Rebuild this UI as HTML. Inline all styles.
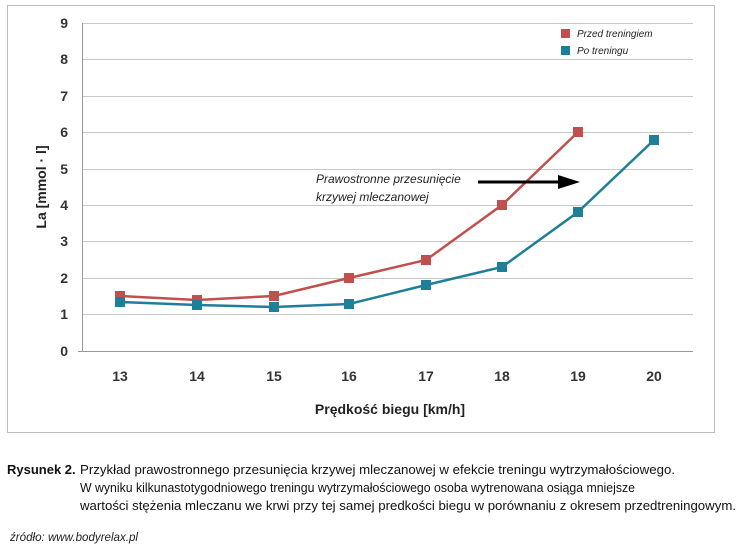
<!DOCTYPE html>
<html><head><meta charset="utf-8"><style>
body{margin:0;background:#fff;width:740px;height:554px;overflow:hidden;font-family:"Liberation Sans",sans-serif}
</style></head><body>
<svg width="740" height="554" xmlns="http://www.w3.org/2000/svg" font-family="Liberation Sans, sans-serif">
<rect x="7.5" y="5.5" width="707" height="427" fill="#fff" stroke="#bdbdbd"/>
<g stroke="#c8c8c8" stroke-width="1">
<line x1="82" y1="23.5" x2="693" y2="23.5"/>
<line x1="82" y1="59.5" x2="693" y2="59.5"/>
<line x1="82" y1="96.5" x2="693" y2="96.5"/>
<line x1="82" y1="132.5" x2="693" y2="132.5"/>
<line x1="82" y1="169.5" x2="693" y2="169.5"/>
<line x1="82" y1="205.5" x2="693" y2="205.5"/>
<line x1="82" y1="241.5" x2="693" y2="241.5"/>
<line x1="82" y1="278.5" x2="693" y2="278.5"/>
<line x1="82" y1="314.5" x2="693" y2="314.5"/>
<line x1="78" y1="351.5" x2="693" y2="351.5" stroke="#999"/>
<line x1="82.5" y1="23" x2="82.5" y2="351" stroke="#999"/>
</g>
<g font-size="14" font-weight="bold" fill="#333" text-anchor="end">
<text x="68" y="28">9</text><text x="68" y="64">8</text><text x="68" y="101">7</text><text x="68" y="137">6</text><text x="68" y="174">5</text><text x="68" y="210">4</text><text x="68" y="246">3</text><text x="68" y="283">2</text><text x="68" y="319">1</text><text x="68" y="356">0</text>
</g>
<g font-size="14" font-weight="bold" fill="#333" text-anchor="middle">
<text x="120" y="381">13</text><text x="197" y="381">14</text><text x="274" y="381">15</text><text x="349" y="381">16</text><text x="426" y="381">17</text><text x="502" y="381">18</text><text x="578" y="381">19</text><text x="654" y="381">20</text>
</g>
<text x="390" y="414" font-size="14" font-weight="bold" fill="#222" text-anchor="middle">Prędkość biegu [km/h]</text>
<text transform="translate(46,187) rotate(-90)" font-size="14" font-weight="bold" fill="#222" text-anchor="middle">La [mmol · l]</text>
<polyline fill="none" stroke="#c0504d" stroke-width="2.5" points="120,296 197,300 274,296 349,278 426,260 502,205 578,132"/>
<polyline fill="none" stroke="#1f7f99" stroke-width="2.5" points="120,302 197,305 274,307 349,304 426,285 502,267 578,212 654,140"/>
<g fill="#c0504d"><rect x="115" y="291" width="10" height="10"/><rect x="192" y="295" width="10" height="10"/><rect x="269" y="291" width="10" height="10"/><rect x="344" y="273" width="10" height="10"/><rect x="421" y="255" width="10" height="10"/><rect x="497" y="200" width="10" height="10"/><rect x="573" y="127" width="10" height="10"/></g>
<g fill="#1f7f99"><rect x="115" y="297" width="10" height="10"/><rect x="192" y="300" width="10" height="10"/><rect x="269" y="302" width="10" height="10"/><rect x="344" y="299" width="10" height="10"/><rect x="421" y="280" width="10" height="10"/><rect x="497" y="262" width="10" height="10"/><rect x="573" y="207" width="10" height="10"/><rect x="649" y="135" width="10" height="10"/></g>
<rect x="561" y="29" width="9" height="9" fill="#c0504d"/>
<text x="577" y="37" font-size="10" font-style="italic" fill="#222">Przed treningiem</text>
<rect x="561" y="46" width="9" height="9" fill="#1f7f99"/>
<text x="577" y="54" font-size="10" font-style="italic" fill="#222">Po treningu</text>
<text x="316" y="183" font-size="12" font-style="italic" fill="#222">Prawostronne przesunięcie</text>
<text x="316" y="201" font-size="12" font-style="italic" fill="#222">krzywej  mleczanowej</text>
<line x1="478" y1="182" x2="560" y2="182" stroke="#000" stroke-width="3"/>
<polygon points="558,175 580,182 558,189" fill="#000"/>
<g font-size="13" fill="#111">
<text x="7" y="474" font-weight="bold">Rysunek 2.</text>
<text x="80" y="474" textLength="595" lengthAdjust="spacingAndGlyphs">Przykład prawostronnego przesunięcia krzywej mleczanowej w efekcie treningu wytrzymałościowego.</text>
<text x="80" y="492" textLength="555" lengthAdjust="spacingAndGlyphs">W wyniku kilkunastotygodniowego treningu wytrzymałościowego osoba wytrenowana osiąga mniejsze</text>
<text x="80" y="510" textLength="656" lengthAdjust="spacingAndGlyphs">wartości stężenia mleczanu we krwi przy tej samej predkości biegu w porównaniu z okresem przedtreningowym.</text>
</g>
<text x="10" y="541" font-size="12" font-style="italic" fill="#222" textLength="128" lengthAdjust="spacingAndGlyphs">źródło: www.bodyrelax.pl</text>
</svg>
</body></html>
